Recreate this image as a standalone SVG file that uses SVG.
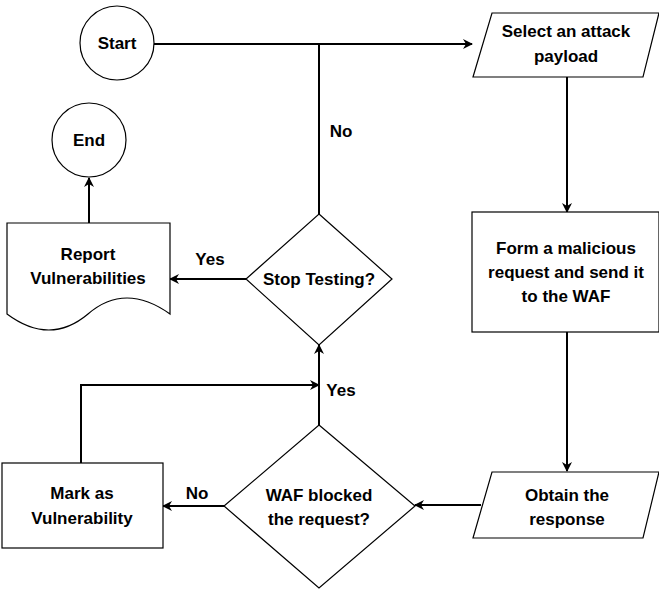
<svg xmlns="http://www.w3.org/2000/svg" width="659" height="589" viewBox="0 0 659 589">
<defs>
<style>
.shape{fill:#fff;stroke:#000;stroke-width:1.2}
.edge{fill:none;stroke:#000;stroke-width:2}
text{font-family:"Liberation Sans",Arial,sans-serif;font-size:17px;font-weight:bold;fill:#000;text-anchor:middle}
</style>
<marker id="arr" viewBox="0 0 10 10" refX="9" refY="5" markerWidth="5" markerHeight="5" orient="auto" markerUnits="strokeWidth">
<path d="M0,0 L10,5 L0,10 L3,5 Z" fill="#000"/>
</marker>
</defs>
<rect width="659" height="589" fill="#fff"/>
<g id="connectors">
<path class="edge" d="M154,44 H472" marker-end="url(#arr)"/>
<path class="edge" d="M319,214 V44"/>
<path class="edge" d="M567,77 V212" marker-end="url(#arr)"/>
<path class="edge" d="M567,332 V471" marker-end="url(#arr)"/>
<path class="edge" d="M481,505 H415" marker-end="url(#arr)"/>
<path class="edge" d="M224,506 H163" marker-end="url(#arr)"/>
<path class="edge" d="M319,425 V345" marker-end="url(#arr)"/>
<path class="edge" d="M81,463 V385 H319" marker-end="url(#arr)"/>
<path class="edge" d="M246,279 H170" marker-end="url(#arr)"/>
<path class="edge" d="M89,223 V178" marker-end="url(#arr)"/>
<text x="341" y="137">No</text>
<text x="210" y="265">Yes</text>
<text x="341" y="396">Yes</text>
<text x="197" y="499">No</text>
</g>
<g id="start">
<circle class="shape" cx="117" cy="43" r="37"/>
<text x="117" y="49">Start</text>
</g>
<g id="end">
<circle class="shape" cx="89" cy="140" r="37"/>
<text x="89" y="146">End</text>
</g>
<g id="select">
<path class="shape" d="M492,13 H659 L643,77 H473 Z"/>
<text x="566" y="37">Select an attack</text>
<text x="566" y="62">payload</text>
</g>
<g id="form">
<rect class="shape" x="472" y="212" width="187" height="120"/>
<text x="566" y="254">Form a malicious</text>
<text x="566" y="278">request and send it</text>
<text x="566" y="302">to the WAF</text>
</g>
<g id="obtain">
<path class="shape" d="M492,472 H659 L643,538 H473 Z"/>
<text x="567" y="501">Obtain the</text>
<text x="567" y="525">response</text>
</g>
<g id="waf">
<path class="shape" d="M319,425 L415,506 L319,588 L224,506 Z"/>
<text x="319" y="501">WAF blocked</text>
<text x="319" y="525">the request?</text>
</g>
<g id="mark">
<rect class="shape" x="2" y="463" width="161" height="85"/>
<text x="82" y="499">Mark as</text>
<text x="82" y="524">Vulnerability</text>
</g>
<g id="stop">
<path class="shape" d="M319,214 L392,279 L319,345 L246,279 Z"/>
<text x="319" y="285">Stop Testing?</text>
</g>
<g id="report">
<path class="shape" d="M7,223 H170 V314 Q125,282 88,314 Q50,346 7,314 Z"/>
<text x="88" y="260">Report</text>
<text x="88" y="284">Vulnerabilities</text>
</g>
</svg>
